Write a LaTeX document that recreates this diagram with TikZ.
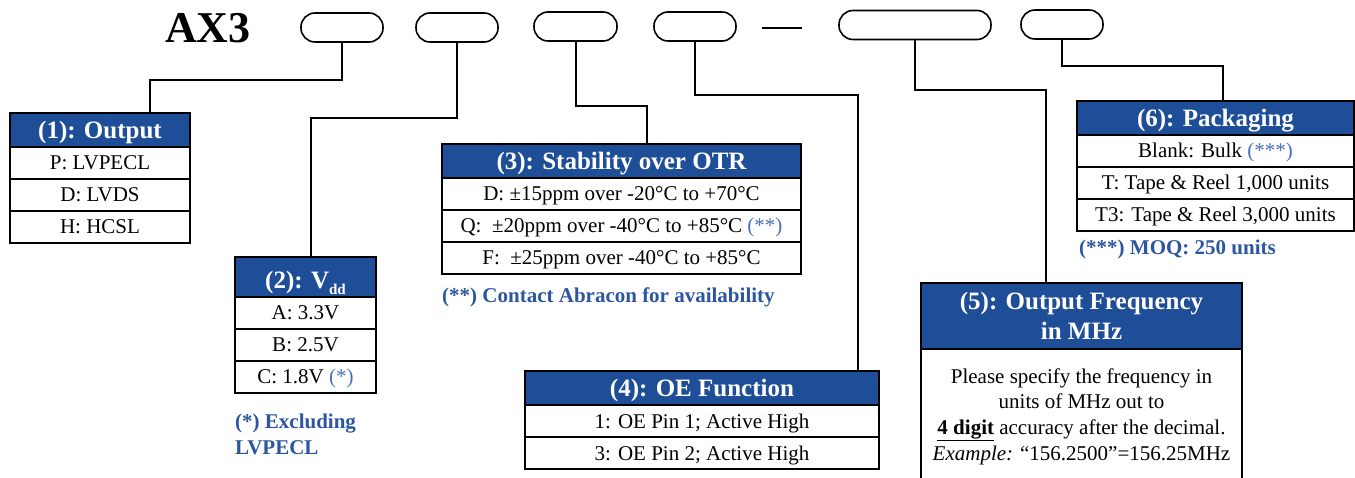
\documentclass[tikz,border=0pt]{standalone}
\usepackage{fontspec}
\setmainfont{Liberation Serif}
\definecolor{hdrblue}{RGB}{31,78,153}
\definecolor{noteblue}{RGB}{44,86,160}
\definecolor{markblue}{RGB}{72,112,186}
\begin{document}
\begin{tikzpicture}[x=1pt,y=-1pt,
  pill/.style={draw,line width=1.6pt,rounded corners=14pt,minimum height=29pt,inner sep=0pt,outer sep=0pt},
  hdrbox/.style={draw,line width=2pt,fill=hdrblue,text=white,font=\fontsize{25}{30}\selectfont\bfseries,inner sep=0pt,outer sep=0pt,anchor=north},
  capc/.style={text height=17pt,text depth=0pt},
  rowbox/.style={draw,line width=2pt,fill=white,font=\fontsize{21}{25}\selectfont,inner sep=0pt,outer sep=0pt,minimum height=32pt,anchor=north,text height=14pt,text depth=0pt},
  wire/.style={line width=2pt},
  notetext/.style={text=noteblue,font=\fontsize{21}{26}\selectfont\bfseries,inner sep=0pt,anchor=base west}]
\useasboundingbox (0,0) rectangle (1355,478);
% title and pills
\node[font=\fontsize{44}{44}\selectfont\bfseries,inner sep=0pt,anchor=base west] (ax) at (165,43) {AX3};
\node[pill,minimum width=82pt] (p1) at (342,27.5) {};
\node[pill,minimum width=82pt] (p2) at (457,27.5) {};
\node[pill,minimum width=83pt] (p3) at (575.5,26.5) {};
\node[pill,minimum width=82pt] (p4) at (695,26.5) {};
\coordinate (d1) at (762,28); \coordinate (d2) at (802,28);
\draw[line width=1.6pt] (d1) -- (d2);
\node[pill,minimum width=152pt] (p5) at (915,25) {};
\node[pill,minimum width=82pt] (p6) at (1062,24.5) {};
% box 1
\node[hdrbox,capc,minimum width=180pt,minimum height=34pt] (h1) at (100,113) {(1): Output};
\node[rowbox,minimum width=180pt] (r11) at (h1.south) {P: LVPECL};
\node[rowbox,minimum width=180pt] (r12) at (r11.south) {D: LVDS};
\node[rowbox,minimum width=180pt] (r13) at (r12.south) {H: HCSL};
% box 2
\node[hdrbox,text height=23pt,text depth=0pt,minimum width=141pt,minimum height=40pt] (h2) at (305.5,257) {(2): V\raisebox{-6pt}{\fontsize{15}{15}\selectfont dd}};
\node[rowbox,minimum width=141pt] (r21) at (h2.south) {A: 3.3V};
\node[rowbox,minimum width=141pt] (r22) at (r21.south) {B: 2.5V};
\node[rowbox,minimum width=141pt] (r23) at (r22.south) {C: 1.8V \textcolor{markblue}{(*)}};
\node[notetext] (n2a) at (235,428) {(*) Excluding};
\node[notetext] (n2b) at (235,454) {LVPECL};
% box 3
\node[hdrbox,capc,minimum width=359pt,minimum height=34pt] (h3) at (621.5,144) {(3): Stability over OTR};
\node[rowbox,minimum width=359pt] (r31) at (h3.south) {D: ±15ppm over -20°C to +70°C};
\node[rowbox,minimum width=359pt] (r32) at (r31.south) {Q:\ \ ±20ppm over -40°C to +85°C \textcolor{markblue}{(**)}};
\node[rowbox,minimum width=359pt] (r33) at (r32.south) {F:\ \ ±25ppm over -40°C to +85°C};
\node[notetext] (n3) at (442,303) {(**) Contact Abracon for availability};
% box 4
\node[hdrbox,capc,minimum width=354pt,minimum height=34pt] (h4) at (702,371) {(4): OE Function};
\node[rowbox,minimum width=354pt] (r41) at (h4.south) {1: OE Pin 1; Active High};
\node[rowbox,minimum width=354pt] (r42) at (r41.south) {3: OE Pin 2; Active High};
% box 5
\node[hdrbox,align=center,minimum width=321pt,minimum height=66pt] (h5) at (1081.5,283) {(5): Output Frequency\\in MHz};
\node[rowbox,minimum width=321pt,minimum height=140pt,text height=,text depth=] (b5) at (h5.south) {};
\node[font=\fontsize{21}{25.7}\selectfont,align=center,inner sep=0pt] (t5) at (1081.5,416.5) {Please specify the frequency in\\units of MHz out to\\\underline{\textbf{4 digit}} accuracy after the decimal.\\\textit{Example:} “156.2500”=156.25MHz};
% box 6
\node[hdrbox,capc,minimum width=277pt,minimum height=34pt] (h6) at (1215.5,101) {(6): Packaging};
\node[rowbox,minimum width=277pt] (r61) at (h6.south) {Blank: Bulk \textcolor{markblue}{(***)}};
\node[rowbox,minimum width=277pt] (r62) at (r61.south) {T: Tape \& Reel 1,000 units};
\node[rowbox,minimum width=277pt] (r63) at (r62.south) {T3: Tape \& Reel 3,000 units};
\node[notetext] (n6) at (1079,255) {(***) MOQ: 250 units};
% connectors
\coordinate (k1) at (150,80);
\coordinate (k2) at (311,118);
\coordinate (k3) at (647,106);
\coordinate (k4) at (858,95);
\coordinate (k5) at (1046,90);
\coordinate (k6) at (1223,66);
\draw[wire] (p1.south) |- (k1) -- (k1 |- h1.north);
\draw[wire] (p2.south) |- (k2) -- (k2 |- h2.north);
\draw[wire] (p3.south) |- (k3) -- (k3 |- h3.north);
\draw[wire] (p4.south) |- (k4) -- (k4 |- h4.north);
\draw[wire] (p5.south) |- (k5) -- (k5 |- h5.north);
\draw[wire] (p6.south) |- (k6) -- (k6 |- h6.north);
\end{tikzpicture}
\end{document}
